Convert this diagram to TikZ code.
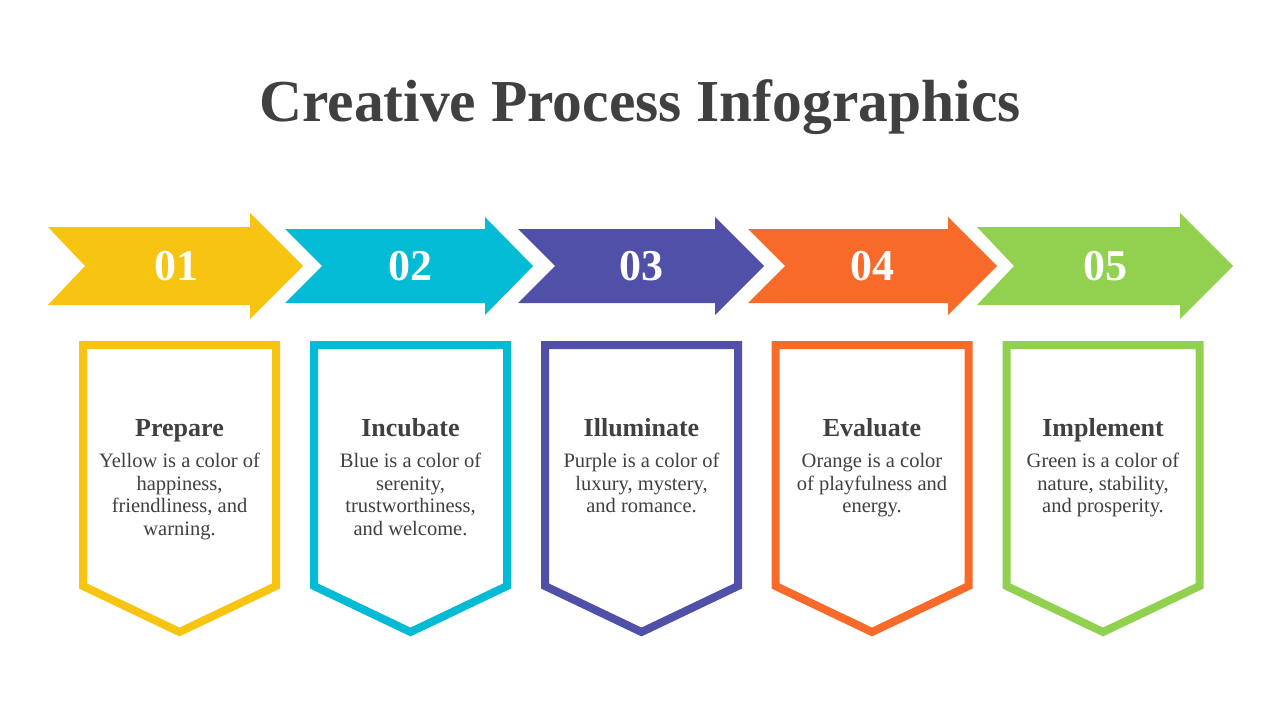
\documentclass[tikz,border=0pt]{standalone}
\usepackage{fontspec}
\setmainfont{Liberation Serif}
\usetikzlibrary{positioning}

\definecolor{ink}{HTML}{404040}
\definecolor{cyellow}{HTML}{F7C411}
\definecolor{cblue}{HTML}{04BBD6}
\definecolor{cpurple}{HTML}{5150A8}
\definecolor{corange}{HTML}{F76A29}
\definecolor{cgreen}{HTML}{92D050}

\begin{document}
\begin{tikzpicture}[x=1pt, y=-1pt, node distance=17pt,
    numtext/.style={text=white, inner sep=0pt, font=\fontsize{44}{44}\selectfont\bfseries},
    headtext/.style={text=ink, inner sep=0pt, anchor=base, font=\fontsize{26}{30}\selectfont\bfseries},
    bodytext/.style={text=ink, inner sep=0pt, align=center, font=\fontsize{20.5}{22.6}\selectfont},
    banner/.style={draw=#1, line width=8pt, fill=white, line join=miter}]

    \useasboundingbox (0,0) rectangle (1280,720);

    % Title
    \node (title) [text=ink, inner sep=0pt, anchor=base, font=\fontsize{59.5}{60}\selectfont\bfseries] at (640,121) {Creative Process Infographics};

    % Top arrows
    \fill[cyellow] (48,227) -- (250,227) -- (250,213) -- (303,266) -- (250,319) -- (250,305) -- (48,305) -- (85,266) -- cycle;
    \fill[cblue] (285,229) -- (485,229) -- (485,217) -- (533,266) -- (485,315) -- (485,303) -- (285,303) -- (322,266) -- cycle;
    \fill[cpurple] (518,229) -- (715,229) -- (715,217) -- (764,266) -- (715,315) -- (715,303) -- (518,303) -- (555,266) -- cycle;
    \fill[corange] (748,229) -- (948,229) -- (948,217) -- (997,266) -- (948,315) -- (948,303) -- (748,303) -- (785,266) -- cycle;
    \fill[cgreen] (977,227) -- (1180,227) -- (1180,213) -- (1233,266) -- (1180,319) -- (1180,305) -- (977,305) -- (1014,266) -- cycle;

    % Step numbers
    \node (one) [numtext] at (176,266) {01};
    \node (two) [numtext] at (410,266) {02};
    \node (three) [numtext] at (641,266) {03};
    \node (four) [numtext] at (872,266) {04};
    \node (five) [numtext] at (1105,266) {05};

    % Banners below the arrows
    \draw[banner=cyellow] (83,345) -- (276,345) -- (276,586) -- (179.5,632) -- (83,586) -- cycle;
    \draw[banner=cblue] (314,345) -- (507,345) -- (507,586) -- (410.5,632) -- (314,586) -- cycle;
    \draw[banner=cpurple] (545,345) -- (738,345) -- (738,586) -- (641.5,632) -- (545,586) -- cycle;
    \draw[banner=corange] (775.5,345) -- (968.5,345) -- (968.5,586) -- (872,632) -- (775.5,586) -- cycle;
    \draw[banner=cgreen] (1006.5,345) -- (1199.5,345) -- (1199.5,586) -- (1103,632) -- (1006.5,586) -- cycle;

    % Step titles
    \node (prep) [headtext] at (179.5,436) {Prepare};
    \node (incu) [headtext] at (410.5,436) {Incubate};
    \node (illu) [headtext] at (641.5,436) {Illuminate};
    \node (eval) [headtext] at (872,436) {Evaluate};
    \node (impl) [headtext] at (1103,436) {Implement};

    % Step descriptions
    \node (prepdesc) [bodytext, below=of prep.base] {Yellow is a color of\\happiness,\\friendliness, and\\warning.};
    \node (incudesc) [bodytext, below=of incu.base] {Blue is a color of\\serenity,\\trustworthiness,\\and welcome.};
    \node (illudesc) [bodytext, below=of illu.base] {Purple is a color of\\luxury, mystery,\\and romance.};
    \node (evaldesc) [bodytext, below=of eval.base] {Orange is a color\\of playfulness and\\energy.};
    \node (impldesc) [bodytext, below=of impl.base] {Green is a color of\\nature, stability,\\and prosperity.};

\end{tikzpicture}
\end{document}
